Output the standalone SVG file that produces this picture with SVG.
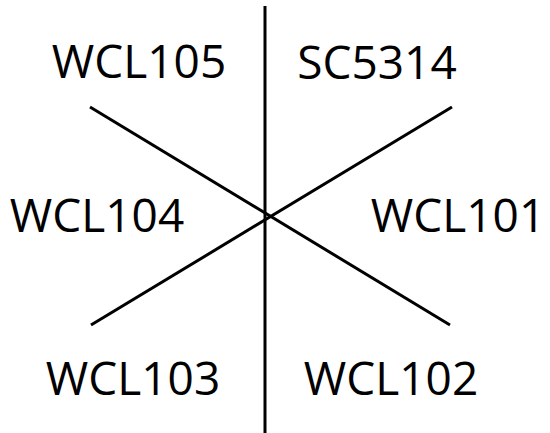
<svg xmlns="http://www.w3.org/2000/svg" width="550" height="433" viewBox="0 0 550 433">
<style>
.lbl{font-family:"Open Sans","Liberation Sans",sans-serif;font-size:46px;fill:#000;text-anchor:middle}
.ln{stroke:#000;stroke-width:3;fill:none}
</style>
<rect width="550" height="433" fill="#fff"/>
<g id="connectors">
<line class="ln" x1="265" y1="6" x2="265" y2="433"/>
<line class="ln" x1="90" y1="107" x2="450" y2="325"/>
<line class="ln" x1="452" y1="107" x2="91" y2="325"/>
</g>
<g id="WCL105"><text class="lbl" x="139" y="78">WCL105</text></g>
<g id="SC5314"><text class="lbl" x="377" y="79">SC5314</text></g>
<g id="WCL104"><text class="lbl" x="97" y="232">WCL104</text></g>
<g id="WCL101"><text class="lbl" x="458" y="232">WCL101</text></g>
<g id="WCL103"><text class="lbl" x="133" y="395">WCL103</text></g>
<g id="WCL102"><text class="lbl" x="391" y="395">WCL102</text></g>
</svg>
